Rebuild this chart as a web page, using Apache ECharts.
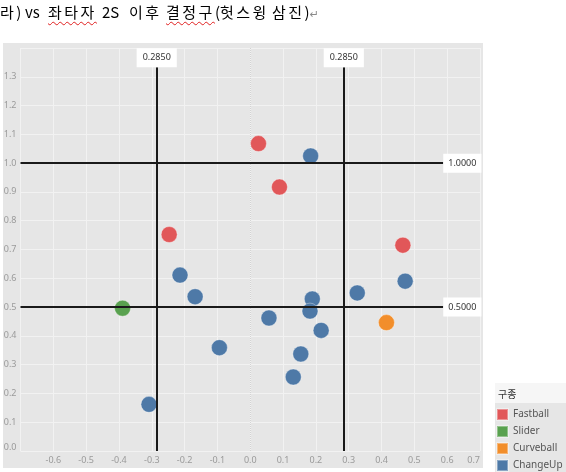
<!DOCTYPE html>
<html>
<head>
<meta charset="utf-8">
<script src="https://cdn.jsdelivr.net/npm/echarts@6/dist/echarts.min.js"></script>
<style>
  html, body { margin: 0; padding: 0; background: #fff; }
  #wrap { position: relative; width: 566px; height: 472px; }
  #chart { position: absolute; left: 0; top: 0; width: 566px; height: 472px; }
  #title { position: absolute; left: 0; top: 1px; width: 566px; height: 24px; font-family: "Noto Sans CJK KR", "Noto Sans", sans-serif; font-size: 15px; color: #000; white-space: nowrap; z-index: 5; }
  #title span.w { position: absolute; top: 0; }
  #title .h { letter-spacing: 2.5px; }
  #title .p { letter-spacing: 0; }
  .sq { text-decoration: underline wavy #e02020; text-decoration-thickness: 1px; text-underline-offset: 3px; }
  .pm { color: #8a8a8a; font-family: "DejaVu Sans", sans-serif; font-size: 11px; letter-spacing: 0; }
</style>
</head>
<body>
<div id="wrap">
  <div id="chart"></div>
  <div id="title"><span class="w h" style="left:0px">라<span class="p">)</span></span> <span class="w" style="left:25px">vs</span> <span class="w h sq" style="left:48px">좌타자</span> <span class="w" style="left:102px">2S</span> <span class="w h" style="left:129px">이후</span> <span class="w h" style="left:166px"><span class="sq">결정구</span><span class="p">(</span>헛스윙</span> <span class="w h" style="left:272px">삼진<span class="p">)</span><span class="pm">↵</span></span></div>
</div>
<script>
// ---- data ----
const pitchTypes = ['Fastball', 'Slider', 'Curveball', 'ChangeUp'];
const pitchColors = ['#e15759', '#59a14f', '#f28e2b', '#4e79a7'];
const fastball = [[0.025, 1.068], [0.089, 0.917], [-0.247, 0.752], [0.465, 0.715]];
const slider = [[-0.389, 0.496]];
const curveball = [[0.415, 0.446]];
const changeUp = [
  [0.184, 1.025], [-0.214, 0.611], [-0.168, 0.536], [0.472, 0.590],
  [0.326, 0.549], [0.189, 0.528], [0.182, 0.486], [0.057, 0.462],
  [0.216, 0.419], [-0.094, 0.359], [0.154, 0.337], [0.131, 0.257],
  [-0.3085, 0.162]
];
const refX = [-0.285, 0.285];
const refXLabels = ['0.2850', '0.2850'];
const refY = [1.0, 0.5];
const refYLabels = ['1.0000', '0.5000'];
const xTicks = { min: -0.7, max: 0.7, step: 0.1 };
const yTicks = { min: 0, max: 1.4, step: 0.1 };
const legendTitle = '구종';

// ---- chart ----
const chart = echarts.init(document.getElementById('chart'), null, { renderer: 'canvas' });
const allSeries = [fastball, slider, curveball, changeUp];

const refLineStyle = { color: '#1a1a1a', width: 2, type: 'solid' };
const boxLabel = {
  show: true, position: 'end', distance: 0,
  backgroundColor: '#ffffff', padding: [5, 5, 5, 5],
  fontSize: 9, color: '#333', fontFamily: 'Noto Sans'
};
const markLineData = [];
refX.forEach((v, i) => {
  markLineData.push([
    { coord: [v, yTicks.min], lineStyle: refLineStyle },
    { coord: [v, 1.333], label: Object.assign({}, boxLabel, { formatter: refXLabels[i], padding: [5, 6, 5, 6] }) }
  ]);
});
refY.forEach((v, i) => {
  markLineData.push([
    { coord: [xTicks.min, v], lineStyle: refLineStyle },
    { coord: [0.588, v], label: Object.assign({}, boxLabel, { formatter: refYLabels[i] }) }
  ]);
});

const series = pitchTypes.map((name, i) => ({
  name: name,
  type: 'scatter',
  data: allSeries[i],
  symbolSize: 16,
  itemStyle: { color: pitchColors[i], opacity: 1, borderColor: 'rgba(255,255,255,0.35)', borderWidth: 1 },
  z: 3
}));
series.push({
  name: '_ref',
  type: 'scatter',
  data: [],
  silent: true,
  markLine: {
    silent: true,
    symbol: ['none', 'none'],
    animation: false,
    label: { show: false },
    lineStyle: { color: '#d3d3d3', width: 1, type: 'dotted' },
    data: [[{ coord: [0, yTicks.min] }, { coord: [0, yTicks.max] }]],
    z: 1
  },
  z: 1
});
series.push({
  name: '_ref2',
  type: 'scatter',
  data: [],
  silent: true,
  markLine: {
    silent: true,
    symbol: ['none', 'none'],
    animation: false,
    label: { show: false },
    data: markLineData
  },
  z: 2
});

const option = {
  animation: false,
  backgroundColor: '#ffffff',
  grid: { left: 20.5, right: 86, top: 48, bottom: 21, containLabel: false },
  xAxis: {
    type: 'value', min: xTicks.min, max: xTicks.max, interval: xTicks.step,
    axisLine: { show: false }, axisTick: { show: false },
    splitLine: { show: true, lineStyle: { color: '#f2f2f2', width: 1 } },
    axisLabel: {
      color: '#9a9a9a', fontSize: 9, margin: 5, fontFamily: 'Noto Sans',
      showMinLabel: false, alignMaxLabel: 'right',
      formatter: v => (Math.abs(v) < 1e-9 ? 0 : v).toFixed(1)
    }
  },
  yAxis: {
    type: 'value', min: yTicks.min, max: yTicks.max, interval: yTicks.step,
    axisLine: { show: false }, axisTick: { show: false },
    splitLine: { show: true, lineStyle: { color: '#f2f2f2', width: 1 } },
    axisLabel: {
      color: '#9a9a9a', fontSize: 9, margin: 4, fontFamily: 'Noto Sans',
      showMaxLabel: false,
      formatter: v => (Math.abs(v) < 1e-9 ? '{z|0.0}' : v.toFixed(1)),
      rich: { z: { color: '#9a9a9a', fontSize: 9, fontFamily: 'Noto Sans', padding: [0, 0, 7, 0] } }
    }
  },
  legend: {
    data: pitchTypes, orient: 'vertical', left: 496, top: 408, height: 64,
    itemWidth: 11, itemHeight: 11, itemGap: 4, icon: 'rect', padding: 0,
    selectedMode: false,
    textStyle: { fontSize: 10, lineHeight: 11, color: '#555', fontFamily: 'Noto Sans' }
  },
  graphic: [
    { type: 'rect', z: -10, silent: true, shape: { x: 3, y: 43, width: 480, height: 425 }, style: { fill: '#e6e6e6' } },
    { type: 'rect', z: -10, silent: true, shape: { x: 495, y: 383, width: 71, height: 20 }, style: { fill: '#f6f6f6' } },
    { type: 'rect', z: -10, silent: true, shape: { x: 495, y: 403, width: 71, height: 69 }, style: { fill: '#e6e6e6' } },
    { type: 'text', z: 10, silent: true, left: 498, top: 389, style: { text: legendTitle, fontSize: 10, fill: '#333', fontFamily: 'Noto Sans CJK KR' } }
  ],
  series: series
};
chart.setOption(option);
</script>
</body>
</html>
